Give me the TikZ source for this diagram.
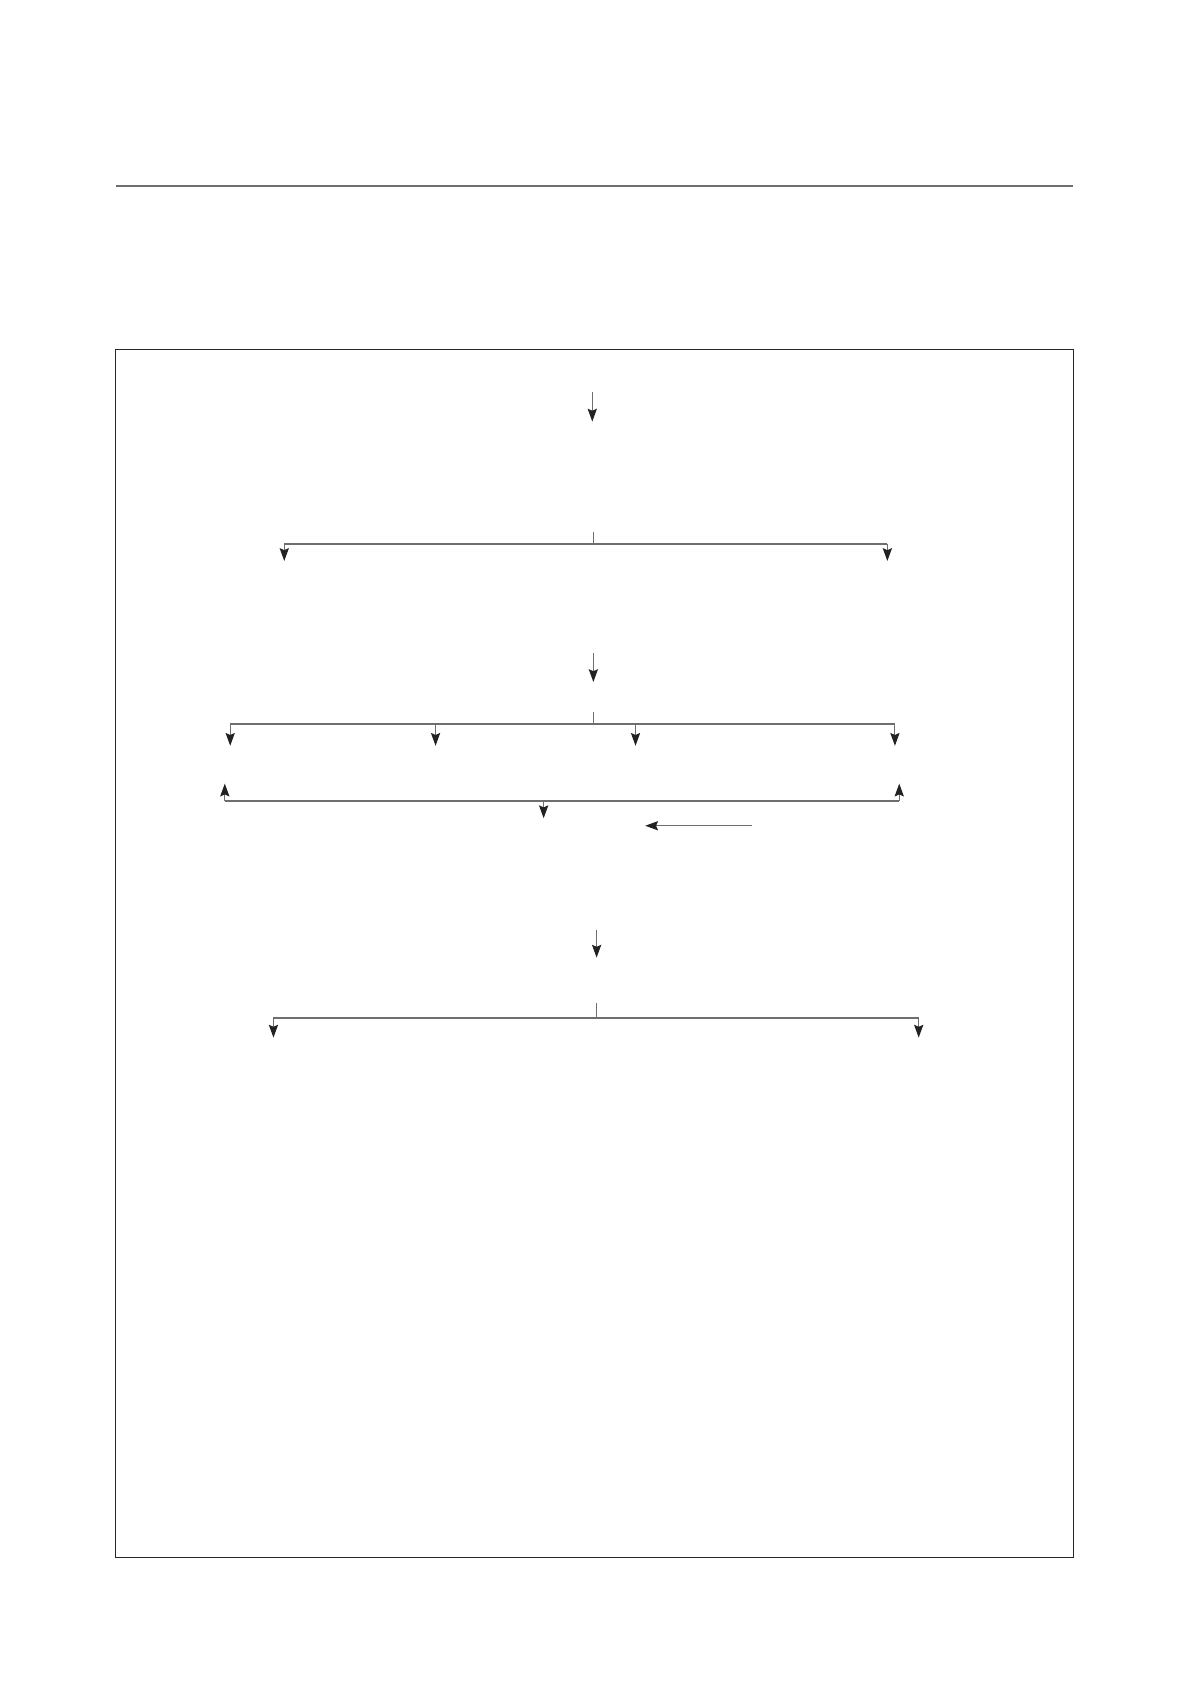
\documentclass[tikz,border=0pt]{standalone}
\usetikzlibrary{arrows.meta}
\definecolor{linegray}{HTML}{6E6E6E}
\definecolor{headdark}{HTML}{222222}
\begin{document}
\begin{tikzpicture}[x=0.019cm,y=-0.019cm,
  flow/.style={draw=linegray,line width=0.55pt,-{Stealth[length=6.4pt,width=4.6pt,inset=1pt,color=headdark,fill=headdark]}},
  bus/.style={draw=linegray,line width=0.9pt},
  stub/.style={draw=linegray,line width=0.55pt}]
\useasboundingbox (0,0) rectangle (1107.5,1566.4);
% top rule and frame
\coordinate (ruleL) at (107,172);
\coordinate (ruleR) at (993,172);
\draw[draw=linegray,line width=0.9pt] (ruleL) -- (ruleR);
\coordinate (boxTL) at (107,323);
\coordinate (boxBR) at (993,1441);
\draw[draw=black!85,line width=0.6pt] (boxTL) rectangle (boxBR);
% arrow 1
\coordinate (a1s) at (548,363);
\coordinate (a1e) at (548,390);
\draw[flow] (a1s) -- (a1e);
% branch 1
\coordinate (b1s) at (549,492);
\coordinate (b1c) at (549,503);
\coordinate (b1l) at (263,503);
\coordinate (b1r) at (821,503);
\coordinate (b1le) at (263,519);
\coordinate (b1re) at (821,519);
\draw[stub] (b1s) -- (b1c);
\draw[bus] (b1l) -- (b1r);
\draw[flow] (b1l) -- (b1le);
\draw[flow] (b1r) -- (b1re);
% arrow 2
\coordinate (a2s) at (549,604);
\coordinate (a2e) at (549,631);
\draw[flow] (a2s) -- (a2e);
% branch 2
\coordinate (b2s) at (549,659);
\coordinate (b2c) at (549,670);
\coordinate (b2a) at (213,670);
\coordinate (b2b) at (403,670);
\coordinate (b2d) at (588,670);
\coordinate (b2e) at (828,670);
\coordinate (b2ae) at (213,690);
\coordinate (b2be) at (403,690);
\coordinate (b2de) at (588,690);
\coordinate (b2ee) at (828,690);
\draw[stub] (b2s) -- (b2c);
\draw[bus] (b2a) -- (b2e);
\draw[flow] (b2a) -- (b2ae);
\draw[flow] (b2b) -- (b2be);
\draw[flow] (b2d) -- (b2de);
\draw[flow] (b2e) -- (b2ee);
% merge bus
\coordinate (m3l) at (208,741);
\coordinate (m3r) at (832,741);
\coordinate (m3le) at (208,725);
\coordinate (m3re) at (832,725);
\coordinate (m3d) at (503,741);
\coordinate (m3de) at (503,757);
\draw[bus] (m3l) -- (m3r);
\draw[flow] (m3l) -- (m3le);
\draw[flow] (m3r) -- (m3re);
\draw[flow] (m3d) -- (m3de);
% side arrow
\coordinate (hs) at (696,764);
\coordinate (he) at (597,764);
\draw[flow] (hs) -- (he);
% arrow 3
\coordinate (a3s) at (552,860);
\coordinate (a3e) at (552,886);
\draw[flow] (a3s) -- (a3e);
% branch 4
\coordinate (b4s) at (552,928);
\coordinate (b4c) at (552,942);
\coordinate (b4l) at (253,942);
\coordinate (b4r) at (850,942);
\coordinate (b4le) at (253,960);
\coordinate (b4re) at (850,960);
\draw[stub] (b4s) -- (b4c);
\draw[bus] (b4l) -- (b4r);
\draw[flow] (b4l) -- (b4le);
\draw[flow] (b4r) -- (b4re);
\end{tikzpicture}
\end{document}
